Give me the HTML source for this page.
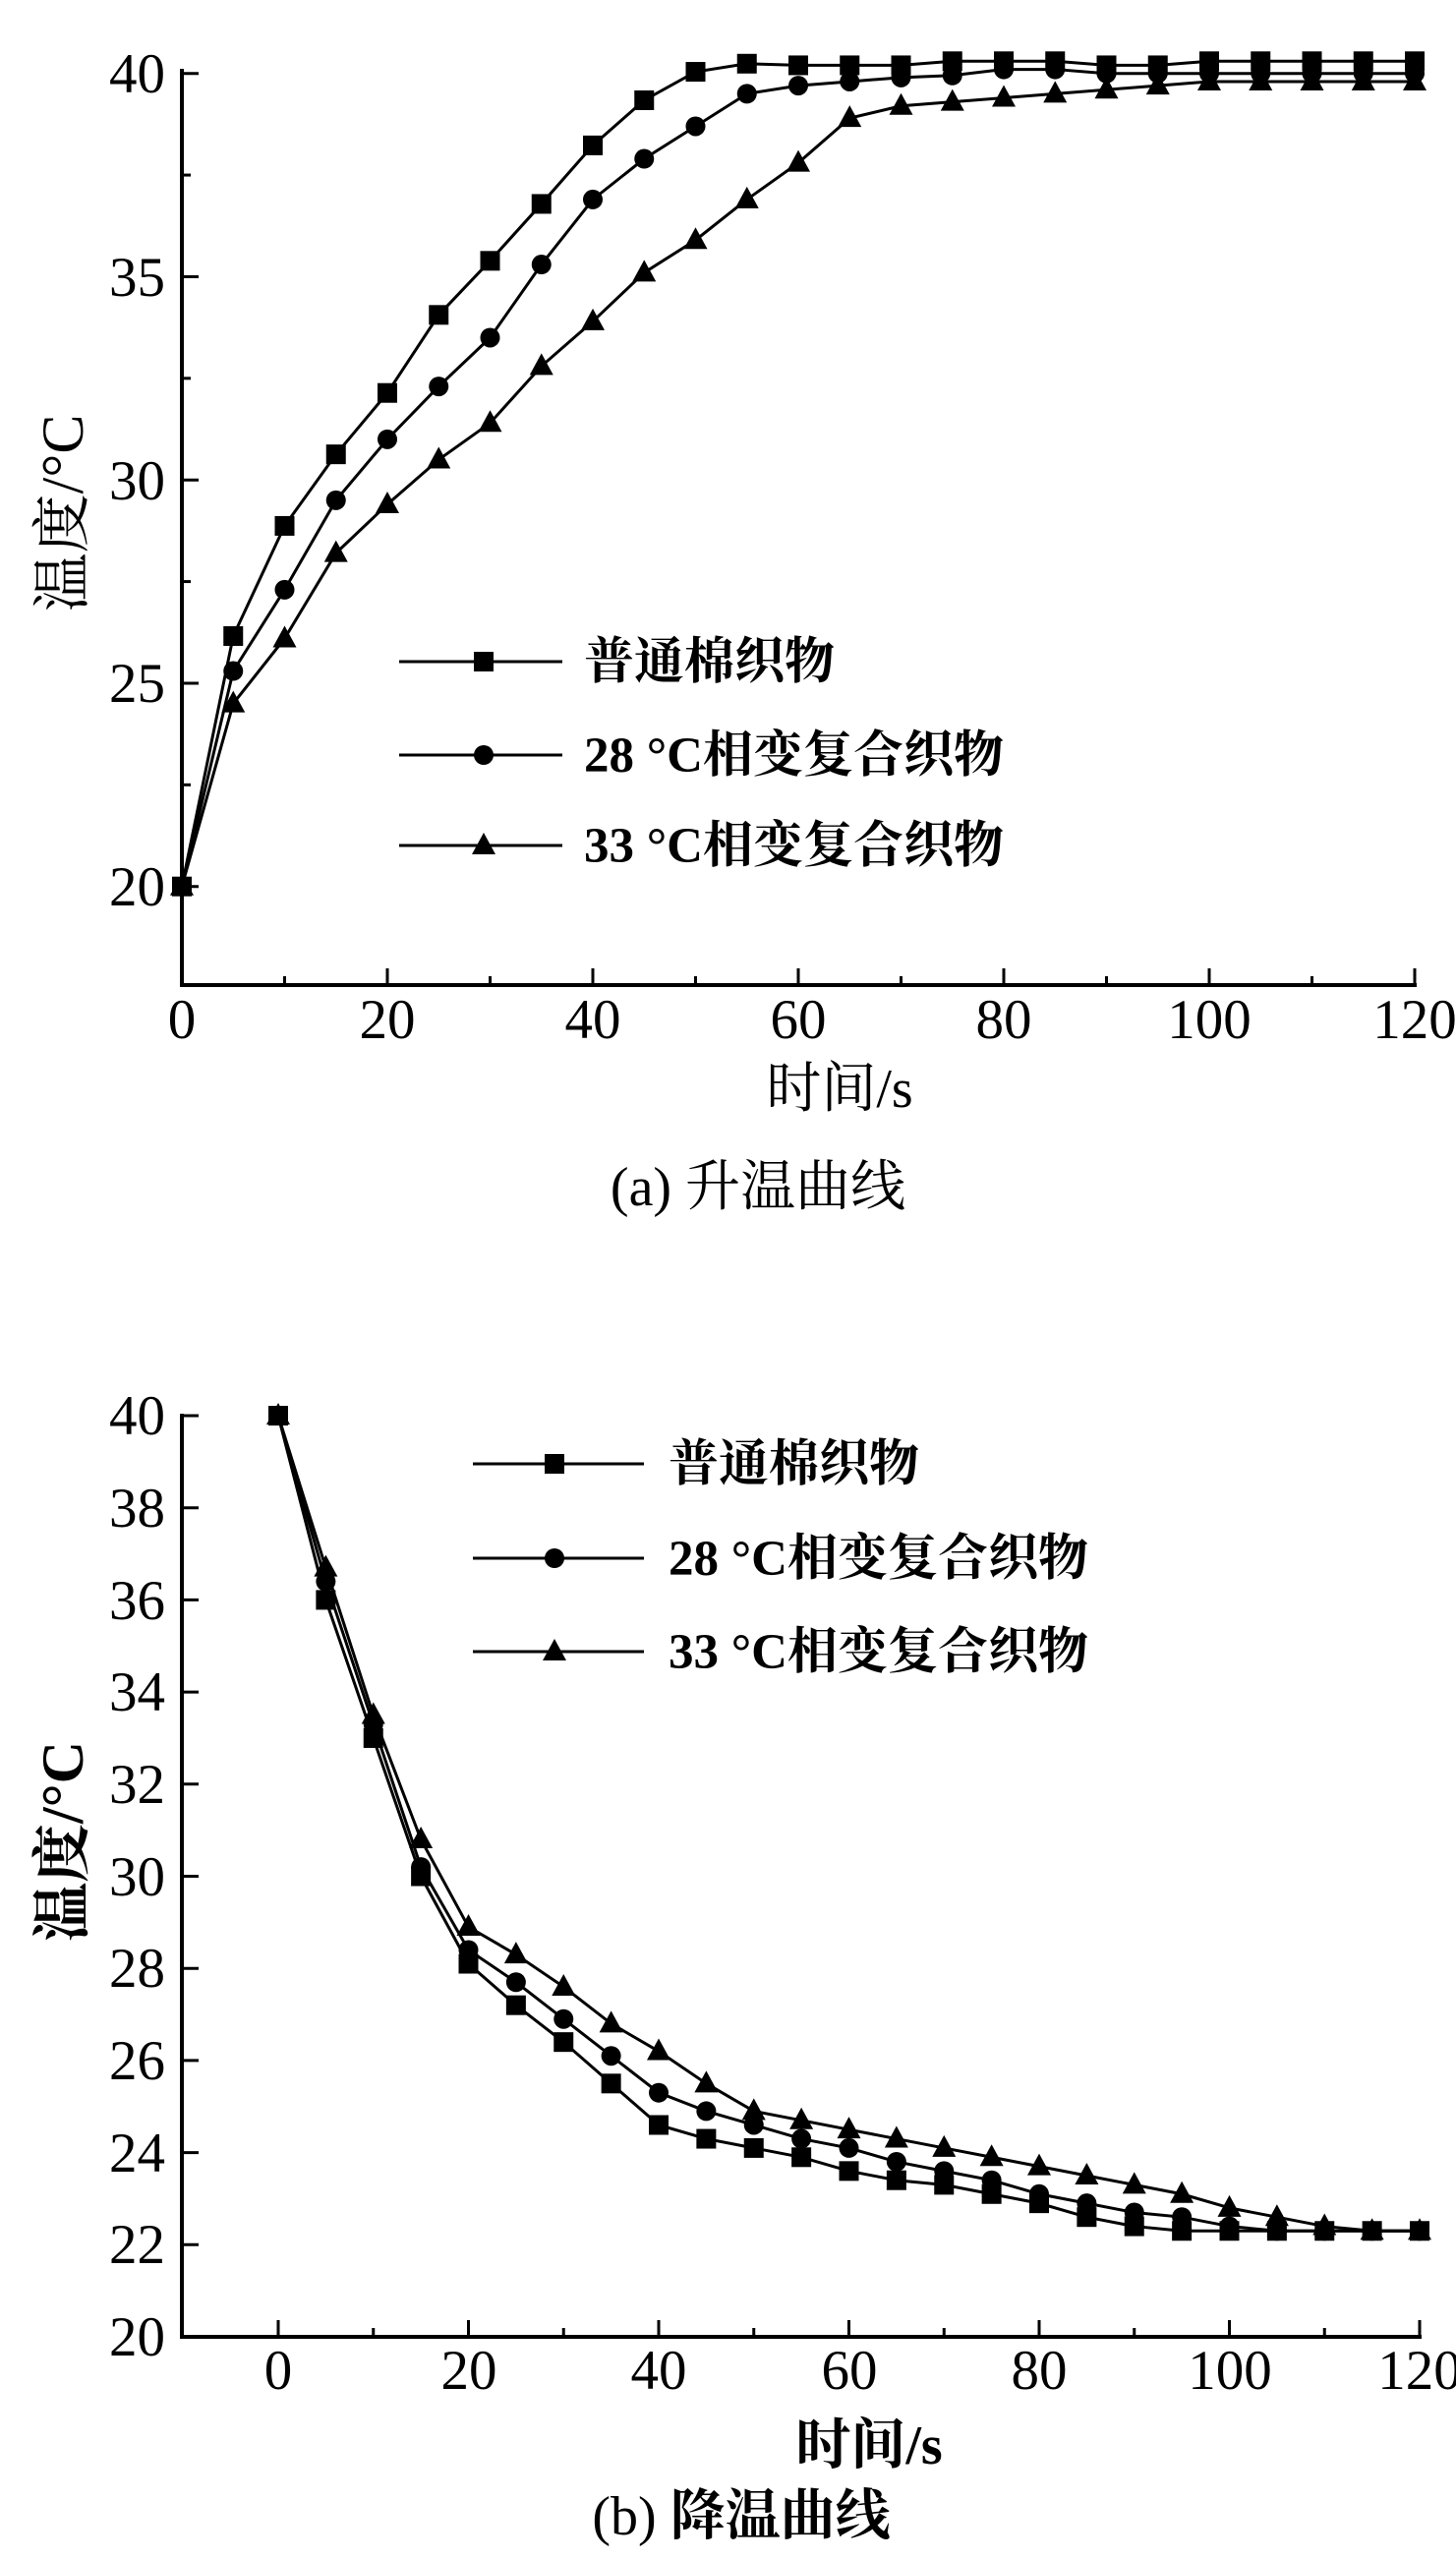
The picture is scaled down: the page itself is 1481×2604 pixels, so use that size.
<!DOCTYPE html>
<html><head><meta charset="utf-8"><style>
html,body{margin:0;padding:0;background:#fff;}
svg{display:block;}
text{font-family:"Liberation Serif","Noto Serif CJK SC","Noto Sans CJK SC",serif;fill:#000;}
.t{font-size:57px;}
.lg{font-size:51px;font-weight:bold;}
</style></head><body>
<svg id="s" width="1481" height="2604" viewBox="0 0 1481 2604" xmlns="http://www.w3.org/2000/svg">
<g id="g"></g>
<g class="t" text-anchor="end">
<text x="168" y="94">40</text><text x="168" y="301">35</text><text x="168" y="508">30</text><text x="168" y="714">25</text><text x="168" y="921">20</text>
</g>
<g class="t" text-anchor="middle">
<text x="185" y="1056">0</text><text x="394" y="1056">20</text><text x="603" y="1056">40</text><text x="812" y="1056">60</text><text x="1021" y="1056">80</text><text x="1230" y="1056">100</text><text x="1439" y="1056">120</text>
</g>
<text x="854" y="1126" text-anchor="middle" style="font-size:56px">时间/s</text>
<text x="771" y="1226" text-anchor="middle" style="font-size:56px">(a) 升温曲线</text>
<text transform="translate(84,522) rotate(-90)" text-anchor="middle" style="font-size:60px">温度/°C</text>
<g class="lg"><text x="594" y="690">普通棉织物</text><text x="594" y="785">28 °C相变复合织物</text><text x="594" y="877">33 °C相变复合织物</text></g>
<g class="t" text-anchor="end">
<text x="168" y="1459">40</text><text x="168" y="1553">38</text><text x="168" y="1647">36</text><text x="168" y="1740">34</text><text x="168" y="1834">32</text><text x="168" y="1928">30</text><text x="168" y="2021">28</text><text x="168" y="2115">26</text><text x="168" y="2209">24</text><text x="168" y="2302">22</text><text x="168" y="2396">20</text>
</g>
<g class="t" text-anchor="middle">
<text x="283" y="2430">0</text><text x="477" y="2430">20</text><text x="670" y="2430">40</text><text x="864" y="2430">60</text><text x="1057" y="2430">80</text><text x="1251" y="2430">100</text><text x="1444" y="2430">120</text>
</g>
<text x="884" y="2506" text-anchor="middle" style="font-size:56px;font-weight:bold">时间/s</text>
<text x="754" y="2578" text-anchor="middle" style="font-size:56px">(b) <tspan font-weight="bold">降温曲线</tspan></text>
<text transform="translate(84,1873) rotate(-90)" text-anchor="middle" style="font-size:60px;font-weight:bold">温度/°C</text>
<g class="lg"><text x="680" y="1506">普通棉织物</text><text x="680" y="1602">28 °C相变复合织物</text><text x="680" y="1697">33 °C相变复合织物</text></g>
</svg>
<script>
var g=document.getElementById('g'),NS='http://www.w3.org/2000/svg';
function el(n,a){var e=document.createElementNS(NS,n);for(var k in a)e.setAttribute(k,a[k]);g.appendChild(e);return e;}
function line(x1,y1,x2,y2,w){el('line',{x1:x1,y1:y1,x2:x2,y2:y2,stroke:'#000','stroke-width':w||4});}
function mk(t,x,y){if(t==0)el('rect',{x:x-10,y:y-10,width:20,height:20,fill:'#000'});
else if(t==1)el('circle',{cx:x,cy:y,r:10,fill:'#000'});
else el('polygon',{points:(x)+','+(y-13)+' '+(x-12)+','+(y+9)+' '+(x+12)+','+(y+9),fill:'#000'});}
function series(d,fx,fy,t){var p=[];d.forEach(function(v,i){p.push(fx(i*5)+','+fy(v));});
el('polyline',{points:p.join(' '),fill:'none',stroke:'#000','stroke-width':3});
d.forEach(function(v,i){mk(t,fx(i*5),fy(v));});}
var X1=function(x){return 185+x*10.45},Y1=function(v){return 901.7-(v-20)*41.35};
line(185,70,185,1004);line(183,1002,1441,1002);
for(var v=20;v<=40;v+=2.5){var M=(v%5==0);line(185,Y1(v),185+(M?17:9),Y1(v),3);}
for(var x=0;x<=120;x+=10){var M=(x%20==0);line(X1(x),1002,X1(x),1002-(M?17:9),3);}
var a1=[20,26.16,28.87,30.63,32.14,34.06,35.39,36.79,38.23,39.34,40.04,40.24,40.2,40.2,40.2,40.3,40.3,40.3,40.2,40.2,40.3,40.3,40.3,40.3,40.3];
var a2=[20,25.3,27.3,29.5,31.0,32.3,33.5,35.3,36.9,37.9,38.7,39.5,39.7,39.8,39.9,39.95,40.1,40.1,40.0,40.0,40.0,40.0,40.0,40.0,40.0];
var a3=[20,24.5,26.1,28.2,29.4,30.5,31.4,32.8,33.9,35.1,35.9,36.9,37.8,38.9,39.2,39.3,39.4,39.5,39.6,39.7,39.8,39.8,39.8,39.8,39.8];
series(a1,X1,Y1,0);series(a2,X1,Y1,1);series(a3,X1,Y1,2);
[[673,0],[768,1],[860,2]].forEach(function(r){line(406,r[0],572,r[0],3);mk(r[1],492,r[0]);});
var X2=function(x){return 283+x*9.675},Y2=function(v){return 2377-(v-20)*46.85};
line(185,1438,185,2379);line(183,2377,1446,2377);
for(var v=20;v<=40;v+=2){line(185,Y2(v),202,Y2(v),3);}
for(var x=0;x<=120;x+=10){var M=(x%20==0);line(X2(x),2377,X2(x),2377-(M?17:9),3);}
var b1=[40,36.0,33.0,30.0,28.1,27.2,26.4,25.5,24.6,24.3,24.1,23.9,23.6,23.4,23.3,23.1,22.9,22.6,22.4,22.3,22.3,22.3,22.3,22.3,22.3];
var b2=[40,36.4,33.3,30.2,28.4,27.7,26.9,26.1,25.3,24.9,24.6,24.3,24.1,23.8,23.6,23.4,23.1,22.9,22.7,22.6,22.4,22.3,22.3,22.3,22.3];
var b3=[40,36.7,33.5,30.8,28.9,28.3,27.6,26.8,26.2,25.5,24.9,24.7,24.5,24.3,24.1,23.9,23.7,23.5,23.3,23.1,22.8,22.6,22.4,22.3,22.3];
series(b1,X2,Y2,0);series(b2,X2,Y2,1);series(b3,X2,Y2,2);
[[1489,0],[1585,1],[1680,2]].forEach(function(r){line(481,r[0],655,r[0],3);mk(r[1],564,r[0]);});
</script>
</body></html>
